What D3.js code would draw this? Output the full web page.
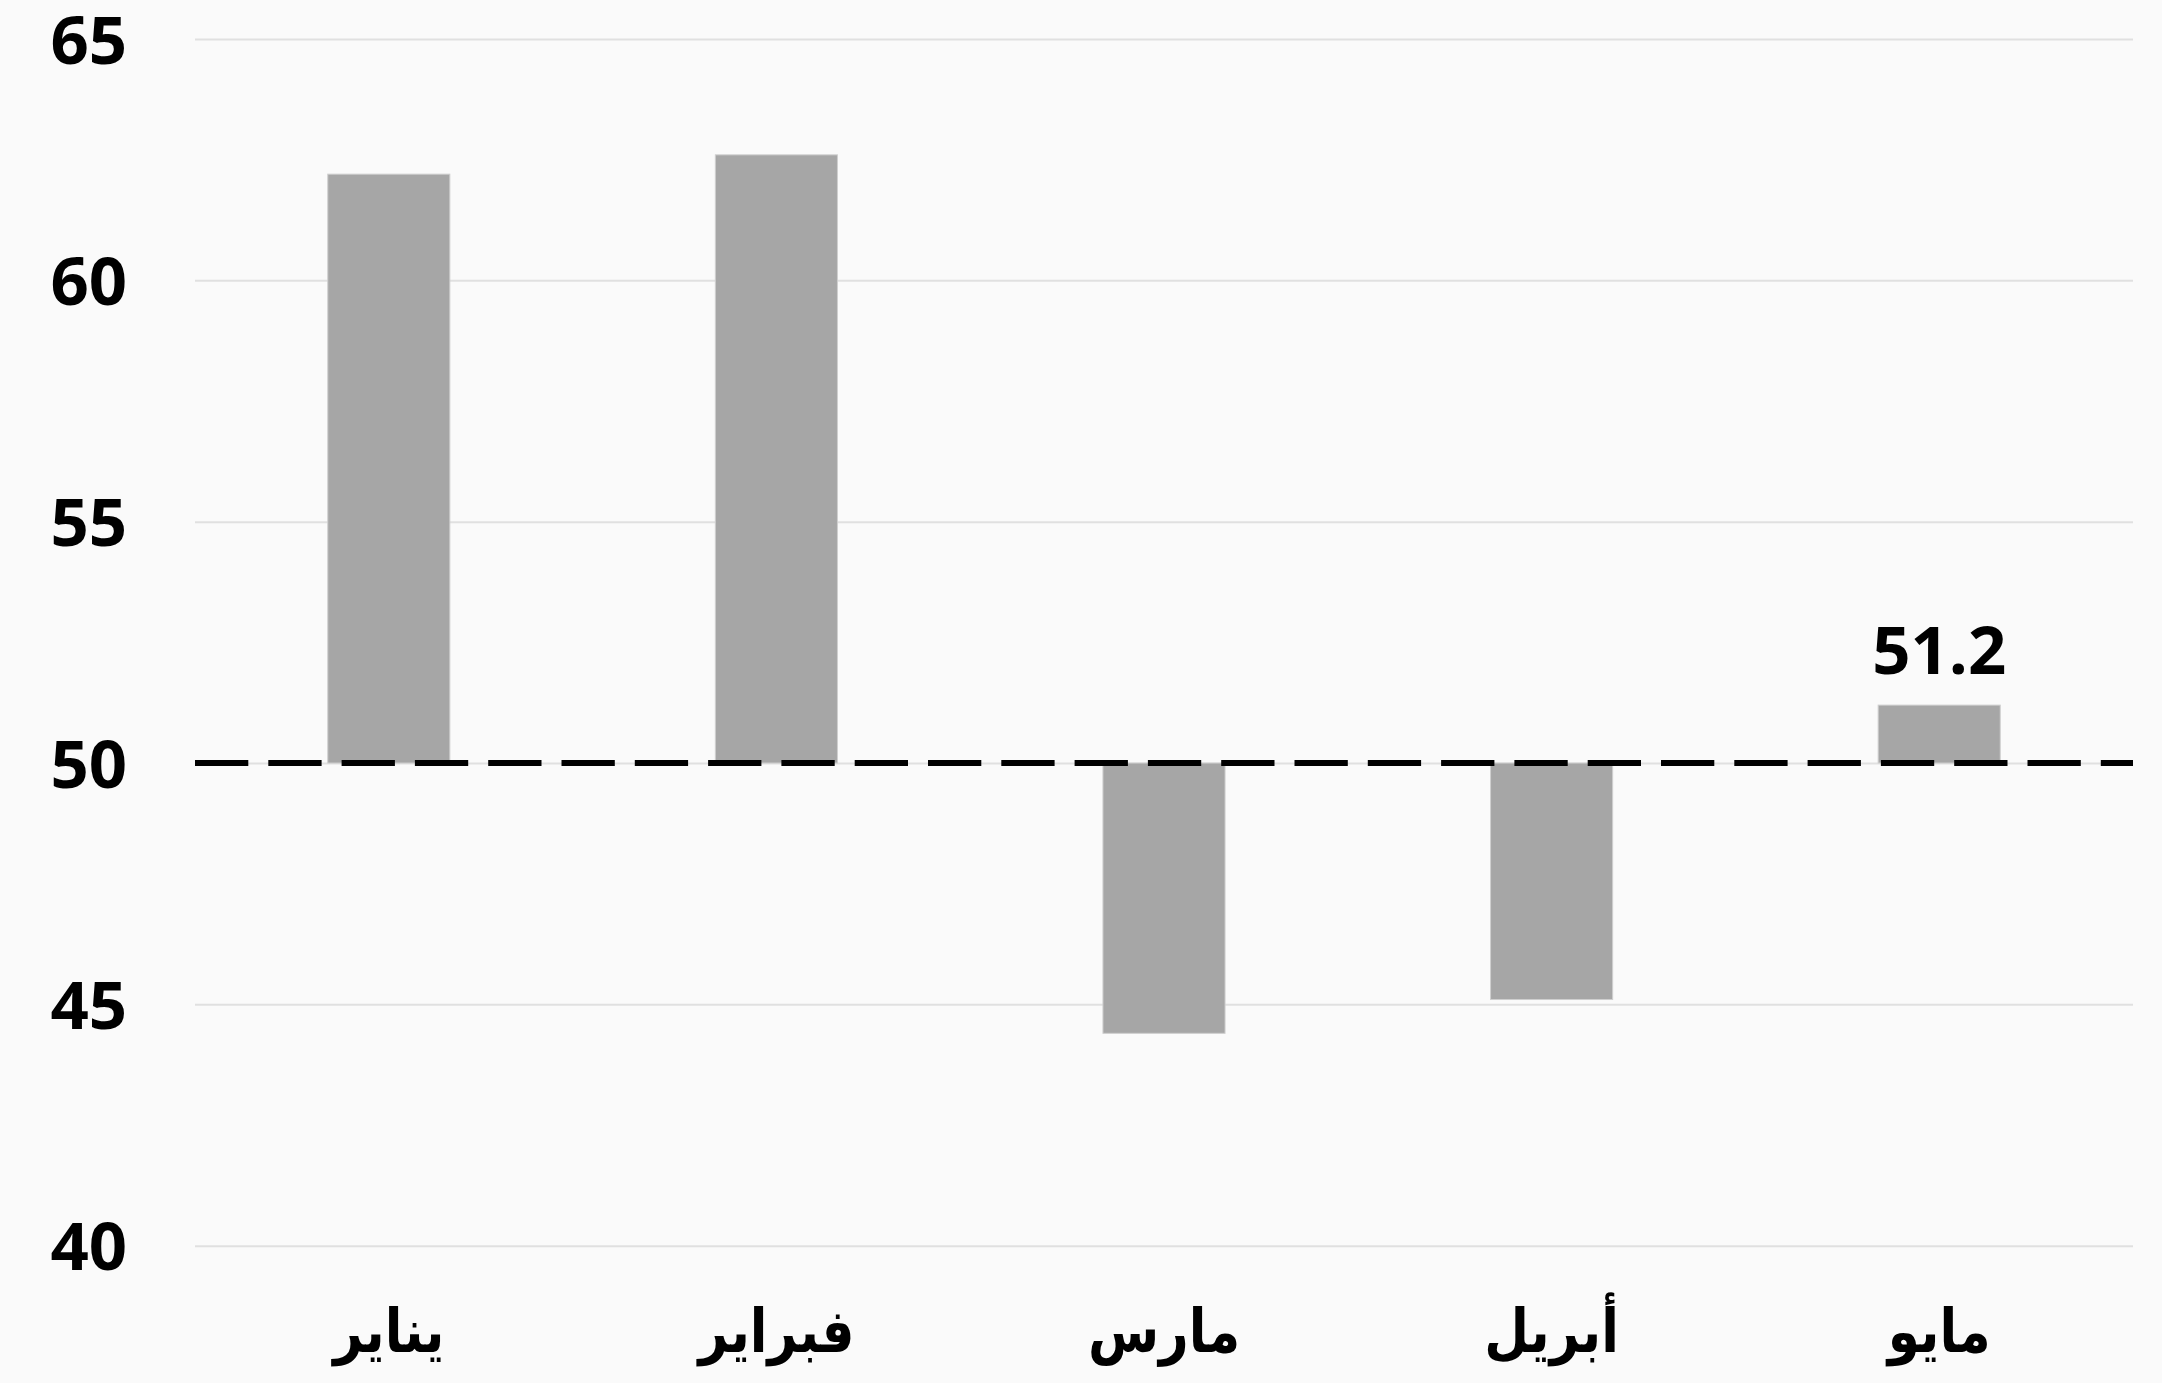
<!DOCTYPE html>
<html>
<head>
<meta charset="utf-8">
<script src="https://cdn.jsdelivr.net/npm/d3@7"></script>
<style>
  html, body { margin: 0; padding: 0; background: #fafafa; }
  svg { display: block; }
</style>
</head>
<body>
<svg id="chart" width="2162" height="1383"></svg>
<script>
const months = ["يناير", "فبراير", "مارس", "أبريل", "مايو"];
const values = [62.2, 62.6, 44.4, 45.1, 51.2];
const labelledMonths = ["مايو"];
const yTicks = [40, 45, 50, 55, 60, 65];
const threshold = 50;

(function () {
const W = 2162, H = 1383;
const plotLeft = 195, plotRight = 2133, plotTop = 39, plotBottom = 1245.7;

const svg = d3.select("#chart");
svg.append("rect").attr("width", W).attr("height", H).attr("fill", "#fafafa");

const x = d3.scaleBand().domain(months).range([plotLeft, plotRight])
  .paddingInner(0.685).paddingOuter(0.3425);
const y = d3.scaleLinear().domain([40, 65]).range([plotBottom, plotTop]);

// gridlines + y labels
const yAxis = d3.axisLeft(y).tickValues(yTicks).tickSize(-(plotRight - plotLeft)).tickPadding(68).tickFormat(d3.format("d"));
const gy = svg.append("g").attr("transform", `translate(${plotLeft},0)`).call(yAxis);
gy.select(".domain").remove();
gy.selectAll(".tick line").attr("stroke", "#e0e0e0").attr("stroke-width", 2);
gy.selectAll(".tick text")
  .attr("fill", "#000")
  .attr("font-family", "'Open Sans', 'Noto Sans', sans-serif")
  .attr("font-weight", "bold")
  .attr("font-size", 67)
  .attr("dy", "0.36em");

// bars
svg.append("g").selectAll("rect").data(months).join("rect")
  .attr("x", d => x(d))
  .attr("width", x.bandwidth())
  .attr("y", (d, i) => Math.min(y(values[i]), y(threshold)))
  .attr("height", (d, i) => Math.abs(y(values[i]) - y(threshold)))
  .attr("fill", "#a6a6a6")
  .attr("stroke", "#cfcfcf")
  .attr("stroke-width", 1);

// dashed threshold line
svg.append("line")
  .attr("x1", plotLeft).attr("x2", plotRight)
  .attr("y1", y(threshold)).attr("y2", y(threshold))
  .attr("stroke", "#000").attr("stroke-width", 6)
  .attr("stroke-dasharray", "53.3,20");

// value labels
svg.append("g").selectAll("text").data(months.filter(m => labelledMonths.includes(m))).join("text")
  .attr("x", d => x(d) + x.bandwidth() / 2)
  .attr("y", d => y(values[months.indexOf(d)]) - 31)
  .attr("text-anchor", "middle")
  .attr("font-family", "'Open Sans', 'Noto Sans', sans-serif")
  .attr("font-weight", "bold")
  .attr("font-size", 67)
  .attr("fill", "#000")
  .text(d => values[months.indexOf(d)].toFixed(1));

// x labels
svg.append("g").selectAll("text").data(months).join("text")
  .attr("transform", d => `translate(${x(d) + x.bandwidth() / 2},1352) scale(0.86,1)`)
  .attr("text-anchor", "middle")
  .attr("font-family", "'DejaVu Sans', sans-serif")
  .attr("font-weight", "bold")
  .attr("font-size", 60)
  .attr("fill", "#000")
  .text(d => d);
})();
</script>
</body>
</html>
